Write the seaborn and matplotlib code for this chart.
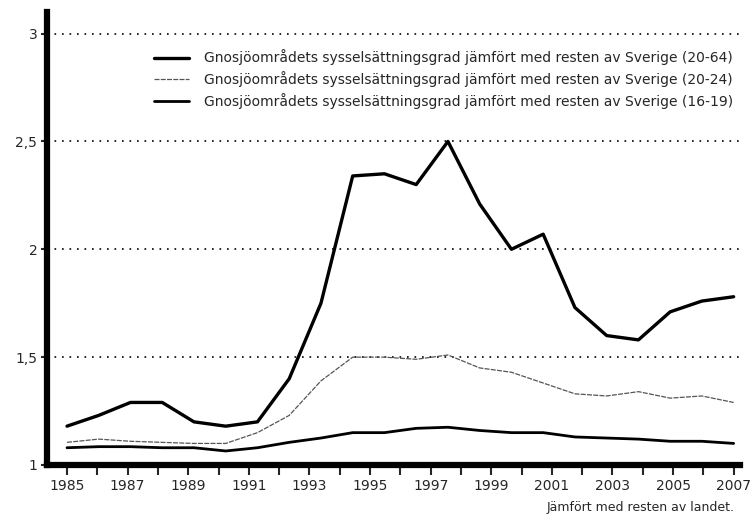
import numpy as np
import pandas as pd
import seaborn as sns
import matplotlib.pyplot as plt

# axis years (labels) and the 22 plotted points per series
axis_years = list(range(1985, 2008))
points = list(range(22))

ratio_20_64 = [1.18, 1.23, 1.29, 1.29, 1.20, 1.18, 1.20, 1.40, 1.75, 2.34, 2.35,
               2.30, 2.50, 2.21, 2.00, 2.07, 1.73, 1.60, 1.58, 1.71, 1.76, 1.78]
ratio_20_24 = [1.105, 1.12, 1.11, 1.105, 1.10, 1.10, 1.15, 1.23, 1.39, 1.50, 1.50,
               1.49, 1.51, 1.45, 1.43, 1.38, 1.33, 1.32, 1.34, 1.31, 1.32, 1.29]
ratio_16_19 = [1.08, 1.085, 1.085, 1.08, 1.08, 1.065, 1.08, 1.105, 1.125, 1.15, 1.15,
               1.17, 1.175, 1.16, 1.15, 1.15, 1.13, 1.125, 1.12, 1.11, 1.11, 1.10]

label_base = "Gnosjöområdets sysselsättningsgrad jämfört med resten av Sverige"
labels = [label_base + " (20-64)", label_base + " (20-24)", label_base + " (16-19)"]

y_ticks = [1, 1.5, 2, 2.5, 3]
y_tick_labels = ["1", "1,5", "2", "2,5", "3"]

sns.set_style("white")
plt.rcParams['font.family'] = ['DejaVu Sans']

fig = plt.figure(figsize=(7.5, 5.23), dpi=100)
ax = fig.add_axes([47 / 750, 1 - 465 / 523, (740 - 47) / 750, (465 - 12) / 523])

sns.lineplot(x=points, y=ratio_20_64, ax=ax, color='black', lw=2.4, label=labels[0])
sns.lineplot(x=points, y=ratio_20_24, ax=ax, color='#555555', lw=0.9,
             linestyle=(0, (4, 1)), label=labels[1])
sns.lineplot(x=points, y=ratio_16_19, ax=ax, color='black', lw=2.0, label=labels[2])

ax.set_ylim(1, 3.1)
ax.set_xlim(-0.63, 21.2)

for v in y_ticks[1:]:
    ax.axhline(v, color='black', lw=1.2, linestyle=(0, (1, 3.5)), zorder=0)

ax.set_yticks(y_ticks)
ax.set_yticklabels(y_tick_labels, fontsize=10)
ax.set_xticks(np.linspace(0, 21, len(axis_years)))
ax.set_xticklabels([str(y) if y % 2 == 1 else "" for y in axis_years], fontsize=10)
ax.tick_params(axis='x', direction='out', length=7, width=1.5, pad=3, bottom=True)
ax.tick_params(axis='y', direction='out', length=4, width=1.5, pad=3, left=True)

for side in ['top', 'right']:
    ax.spines[side].set_visible(False)
ax.spines['left'].set_linewidth(4.5)
ax.spines['bottom'].set_linewidth(4.5)
ax.spines['left'].set_color('black')
ax.spines['bottom'].set_color('black')

leg = ax.legend(loc='upper right', bbox_to_anchor=(1.008, 0.945), frameon=False,
                fontsize=10, handlelength=2.5, handletextpad=1.1, labelspacing=0.42)

ax.set_xlabel("")
ax.set_ylabel("")
fig.text(735 / 750, 1 - 508 / 523, "Jämfört med resten av landet.", ha='right', va='center',
         fontsize=9)

plt.savefig("out.png", dpi=100)
